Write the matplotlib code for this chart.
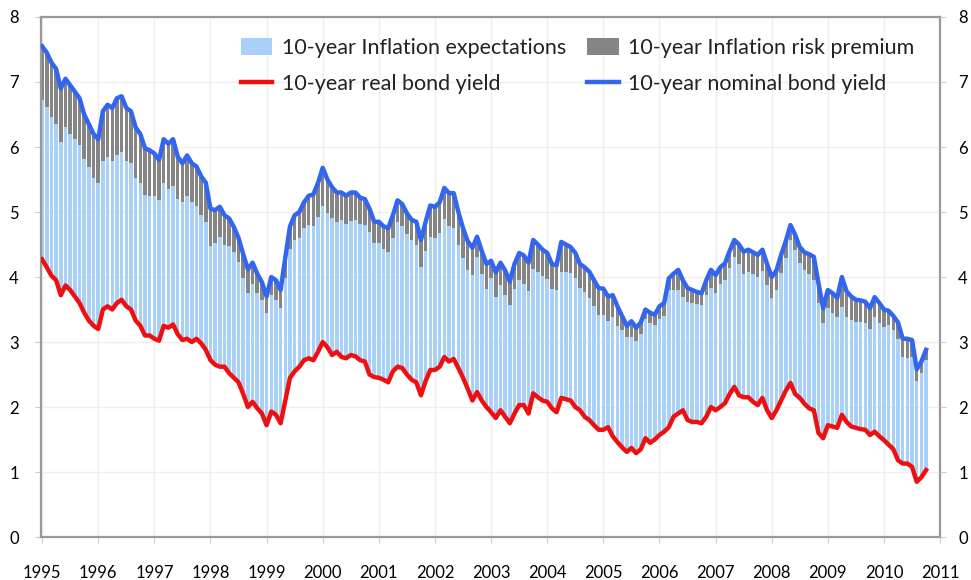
import numpy as np
import matplotlib
matplotlib.use("Agg")
import matplotlib.pyplot as plt

plt.rcParams["font.family"] = ["Lato", "DejaVu Sans"]

# monthly observations, Jan 1995 .. Oct 2010
start_year = 1995
nominal = [
    7.55, 7.45, 7.30, 7.20, 6.90, 7.05, 6.95, 6.85, 6.75, 6.50, 6.35, 6.20,  # 1995
    6.12, 6.55, 6.65, 6.60, 6.75, 6.78, 6.60, 6.55, 6.30, 6.20, 5.98, 5.95,  # 1996
    5.90, 5.80, 6.12, 6.05, 6.12, 5.85, 5.75, 5.87, 5.75, 5.70, 5.55, 5.45,  # 1997
    5.05, 5.03, 5.08, 4.95, 4.90, 4.77, 4.60, 4.35, 4.12, 4.22, 4.05, 3.92,  # 1998
    3.70, 4.00, 3.95, 3.80, 4.30, 4.78, 4.95, 5.00, 5.15, 5.25, 5.27, 5.45,  # 1999
    5.68, 5.50, 5.38, 5.30, 5.30, 5.25, 5.30, 5.30, 5.22, 5.20, 5.05, 4.85,  # 2000
    4.85, 4.78, 4.75, 4.95, 5.18, 5.12, 4.98, 4.88, 4.85, 4.57, 4.85, 5.10,  # 2001
    5.08, 5.15, 5.37, 5.29, 5.29, 5.00, 4.75, 4.55, 4.45, 4.62, 4.40, 4.20,  # 2002
    4.25, 4.07, 4.22, 4.10, 3.93, 4.20, 4.37, 4.33, 4.22, 4.57, 4.50, 4.42,  # 2003
    4.37, 4.20, 4.18, 4.54, 4.50, 4.46, 4.37, 4.20, 4.15, 4.08, 3.95, 3.83,  # 2004
    3.82, 3.70, 3.72, 3.55, 3.40, 3.25, 3.32, 3.22, 3.30, 3.50, 3.45, 3.42,  # 2005
    3.55, 3.60, 3.98, 4.05, 4.11, 3.95, 3.83, 3.80, 3.77, 3.75, 3.95, 4.11,  # 2006
    4.03, 4.15, 4.21, 4.40, 4.57, 4.50, 4.39, 4.42, 4.38, 4.34, 4.42, 4.20,  # 2007
    4.00, 4.10, 4.34, 4.55, 4.80, 4.65, 4.46, 4.38, 4.35, 4.31, 3.90, 3.52,  # 2008
    3.80, 3.75, 3.68, 4.00, 3.78, 3.70, 3.65, 3.64, 3.62, 3.52, 3.69, 3.60,  # 2009
    3.50, 3.48, 3.40, 3.30, 3.05, 3.05, 3.03, 2.58, 2.70, 2.88,              # 2010
]
real = [
    4.27, 4.15, 4.02, 3.95, 3.72, 3.87, 3.80, 3.70, 3.60, 3.45, 3.33, 3.25,
    3.20, 3.50, 3.55, 3.50, 3.60, 3.65, 3.55, 3.50, 3.33, 3.25, 3.10, 3.10,
    3.05, 3.02, 3.25, 3.22, 3.27, 3.12, 3.03, 3.05, 3.00, 3.05, 2.98, 2.88,
    2.72, 2.65, 2.62, 2.62, 2.52, 2.45, 2.38, 2.20, 2.00, 2.08, 1.98, 1.90,
    1.72, 1.93, 1.88, 1.75, 2.10, 2.45, 2.55, 2.62, 2.72, 2.75, 2.72, 2.85,
    3.00, 2.92, 2.80, 2.85, 2.77, 2.75, 2.80, 2.78, 2.72, 2.70, 2.50, 2.46,
    2.45, 2.42, 2.38, 2.55, 2.62, 2.60, 2.50, 2.42, 2.38, 2.18, 2.40, 2.57,
    2.57, 2.62, 2.77, 2.70, 2.74, 2.60, 2.45, 2.28, 2.10, 2.23, 2.10, 2.00,
    1.92, 1.83, 1.95, 1.85, 1.75, 1.90, 2.03, 2.03, 1.90, 2.21, 2.15, 2.10,
    2.08, 1.98, 1.92, 2.14, 2.12, 2.10, 2.00, 1.95, 1.85, 1.80, 1.72, 1.65,
    1.65, 1.69, 1.55, 1.46, 1.38, 1.31, 1.37, 1.29, 1.35, 1.52, 1.45, 1.50,
    1.57, 1.62, 1.69, 1.85, 1.90, 1.95, 1.80, 1.77, 1.77, 1.75, 1.85, 2.00,
    1.95, 2.00, 2.06, 2.20, 2.31, 2.18, 2.15, 2.15, 2.08, 2.03, 2.14, 1.95,
    1.83, 1.95, 2.10, 2.25, 2.37, 2.20, 2.14, 2.05, 1.98, 1.95, 1.60, 1.52,
    1.72, 1.70, 1.68, 1.88, 1.77, 1.70, 1.68, 1.66, 1.65, 1.57, 1.62, 1.55,
    1.49, 1.42, 1.35, 1.18, 1.13, 1.13, 1.08, 0.85, 0.92, 1.03,
]
risk_premium = [
    0.83, 0.84, 0.84, 0.84, 0.82, 0.75, 0.75, 0.73, 0.72, 0.68, 0.65, 0.68,
    0.68, 0.77, 0.80, 0.82, 0.88, 0.85, 0.82, 0.80, 0.78, 0.75, 0.72, 0.70,
    0.65, 0.62, 0.67, 0.70, 0.72, 0.65, 0.60, 0.62, 0.60, 0.60, 0.60, 0.60,
    0.58, 0.50, 0.47, 0.45, 0.42, 0.38, 0.37, 0.37, 0.37, 0.32, 0.30, 0.28,
    0.26, 0.28, 0.30, 0.28, 0.32, 0.35, 0.38, 0.40, 0.40, 0.45, 0.49, 0.52,
    0.58, 0.52, 0.47, 0.45, 0.42, 0.43, 0.44, 0.42, 0.40, 0.40, 0.36, 0.33,
    0.33, 0.35, 0.37, 0.35, 0.33, 0.33, 0.32, 0.31, 0.35, 0.42, 0.45, 0.48,
    0.48, 0.47, 0.47, 0.50, 0.54, 0.50, 0.46, 0.44, 0.42, 0.31, 0.35, 0.38,
    0.26, 0.38, 0.35, 0.37, 0.36, 0.38, 0.42, 0.43, 0.44, 0.44, 0.42, 0.40,
    0.40, 0.38, 0.38, 0.46, 0.42, 0.40, 0.38, 0.37, 0.38, 0.40, 0.40, 0.41,
    0.41, 0.38, 0.34, 0.30, 0.22, 0.18, 0.24, 0.20, 0.18, 0.15, 0.16, 0.16,
    0.20, 0.20, 0.18, 0.25, 0.31, 0.25, 0.21, 0.20, 0.18, 0.18, 0.22, 0.28,
    0.27, 0.26, 0.26, 0.26, 0.26, 0.30, 0.34, 0.34, 0.34, 0.34, 0.33, 0.33,
    0.33, 0.30, 0.28, 0.25, 0.23, 0.24, 0.24, 0.27, 0.30, 0.36, 0.30, 0.23,
    0.27, 0.30, 0.30, 0.46, 0.40, 0.36, 0.34, 0.33, 0.32, 0.32, 0.31, 0.30,
    0.27, 0.22, 0.22, 0.26, 0.28, 0.29, 0.26, 0.18, 0.18, 0.16,
]
years = list(range(1995, 2012))
y_ticks = list(range(0, 9))

nom = np.array(nominal)
rl = np.array(real)
irp = np.array(risk_premium)
t = start_year + np.arange(len(nom)) / 12.0
ie_top = nom - irp

fig = plt.figure(figsize=(9.71, 5.8), dpi=100)
ax = fig.add_axes([0.0422, 0.0741, 0.926, 0.8966])

w = 0.75 / 12
ax.bar(t, ie_top - rl, bottom=rl, width=w, color="#a9d1f7", linewidth=0,
       label="10-year Inflation expectations", zorder=2)
ax.bar(t, irp, bottom=ie_top, width=w, color="#858585", linewidth=0,
       label="10-year Inflation risk premium", zorder=2)
ax.plot(t, rl, color="#ee1010", lw=3.2, label="10-year real bond yield", zorder=3)
ax.plot(t, nom, color="#3366ee", lw=3.2, label="10-year nominal bond yield", zorder=3)

ax.set_xlim(1994.98, 2011.0)
ax.set_ylim(0, 8)
ax.set_xticks(years)
ax.set_yticks(y_ticks)
ax.grid(True, color="#efefef", lw=1, zorder=0)
ax.set_axisbelow(True)
for s in ax.spines.values():
    s.set_color("#999999")
    s.set_linewidth(1.6)
ax.tick_params(axis="x", labelsize=12, pad=16, length=4, color="#cccccc")
ax.tick_params(axis="y", labelsize=12, pad=12, length=4, color="#cccccc")

ax2 = ax.twinx()
ax2.set_ylim(0, 8)
ax2.set_yticks(y_ticks)
ax2.tick_params(axis="y", labelsize=12, pad=9, length=4, color="#cccccc")
for s in ax2.spines.values():
    s.set_visible(False)

h, l = ax.get_legend_handles_labels()
order = [2, 0, 3, 1]
ax.legend([h[i] for i in order], [l[i] for i in order], ncol=2, frameon=False,
          fontsize=15.5, labelcolor="#222222", loc="upper right",
          bbox_to_anchor=(0.993, 0.997),
          handlelength=1.45, handleheight=0.8, columnspacing=1.0,
          handletextpad=0.45, labelspacing=0.75)

fig.savefig("out.png", dpi=100)
